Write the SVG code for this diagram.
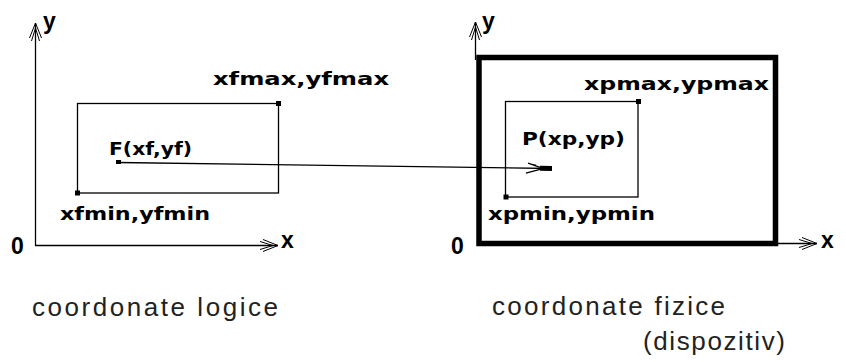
<svg xmlns="http://www.w3.org/2000/svg" width="846" height="362" viewBox="0 0 846 362">
<style>
.ax{stroke:#000;stroke-width:1.3;fill:none}
.thin{stroke:#000;stroke-width:1.3;fill:none}
.thick{stroke:#000;stroke-width:5.5;fill:none}
.lbl{font-family:"DejaVu Sans",sans-serif;font-weight:bold;font-size:18px;fill:#000}
.axl{font-family:"Liberation Sans",Arial,sans-serif;font-weight:bold;font-size:23px;fill:#000}
.cap{font-family:"Liberation Sans",Arial,sans-serif;font-size:26px;fill:#222}
.dot{fill:#000}
</style>
<defs>
<marker id="ah" markerUnits="userSpaceOnUse" markerWidth="18" markerHeight="14" refX="15" refY="6" orient="auto" overflow="visible">
<path d="M0,0 L15,6 L0,12 M-3,2 L10,6 L-3,10" fill="none" stroke="#000" stroke-width="1"/>
</marker>
<marker id="ch" markerUnits="userSpaceOnUse" markerWidth="30" markerHeight="14" refX="26" refY="6" orient="auto" overflow="visible">
<rect x="14" y="3.5" width="12" height="5" fill="#000"/>
<path d="M2,1 L14,5 M0,11 L14,7 M6,2 L10,3" fill="none" stroke="#000" stroke-width="1.2"/>
</marker>
</defs>
<g id="axes-logic">
<line class="ax" x1="35.5" y1="245.5" x2="35.5" y2="23" marker-end="url(#ah)"/>
<line class="ax" x1="35" y1="245.5" x2="278" y2="245.5" marker-end="url(#ah)"/>
<text class="axl" x="43" y="29">y</text>
<text class="axl" x="281" y="248">x</text>
<text class="axl" x="11" y="254">0</text>
</g>
<g id="axes-device">
<line class="ax" x1="475.5" y1="60" x2="475.5" y2="22" marker-end="url(#ah)"/>
<line class="ax" x1="776" y1="243.5" x2="817" y2="243.5" marker-end="url(#ah)"/>
<text class="axl" x="482" y="29">y</text>
<text class="axl" x="821" y="248">x</text>
<text class="axl" x="451" y="254">0</text>
</g>
<g id="window-logic">
<rect class="thin" x="77.5" y="103.5" width="201" height="89.5"/>
<rect class="dot" x="276" y="101" width="5" height="5"/>
<rect class="dot" x="75" y="190.5" width="5" height="5"/>
<text class="lbl" x="213" y="85" textLength="176" lengthAdjust="spacingAndGlyphs">xfmax,yfmax</text>
<text class="lbl" x="60" y="220" textLength="150" lengthAdjust="spacingAndGlyphs">xfmin,yfmin</text>
</g>
<g id="point-f">
<rect class="dot" x="116" y="160" width="5" height="4"/>
<text class="lbl" x="109" y="155" font-size="19" textLength="83" lengthAdjust="spacingAndGlyphs">F(xf,yf)</text>
</g>
<g id="device">
<rect class="thick" x="479" y="57.5" width="296.5" height="186"/>
</g>
<g id="viewport">
<rect class="thin" x="505.5" y="101.5" width="132.5" height="95.5"/>
<rect class="dot" x="636" y="99" width="5" height="5"/>
<rect class="dot" x="503.5" y="194.5" width="5" height="5"/>
<text class="lbl" x="584" y="90" textLength="185" lengthAdjust="spacingAndGlyphs">xpmax,ypmax</text>
<text class="lbl" x="488" y="220" textLength="167" lengthAdjust="spacingAndGlyphs">xpmin,ypmin</text>
</g>
<g id="point-p">
<text class="lbl" x="522" y="145" font-size="19" textLength="103" lengthAdjust="spacingAndGlyphs">P(xp,yp)</text>
</g>
<g id="connectors">
<line class="thin" x1="118" y1="162.5" x2="552" y2="168.5" marker-end="url(#ch)"/>
</g>
<g id="captions">
<text class="cap" x="32" y="316" textLength="246" lengthAdjust="spacing">coordonate logice</text>
<text class="cap" x="492" y="315" textLength="233" lengthAdjust="spacing">coordonate fizice</text>
<text class="cap" x="643" y="350" textLength="142" lengthAdjust="spacing">(dispozitiv)</text>
</g>
</svg>
